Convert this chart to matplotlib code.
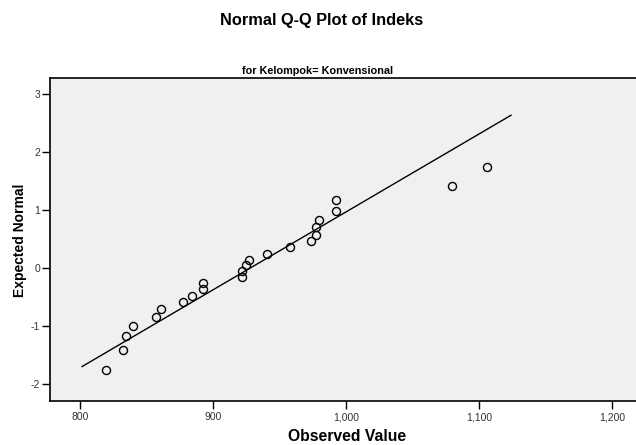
import numpy as np
import matplotlib
import matplotlib.pyplot as plt
matplotlib.use('Agg')

plt.rcParams['font.family'] = ['Liberation Sans', 'DejaVu Sans']
plt.rcParams['axes.unicode_minus'] = False

# observed values (Indeks, Kelompok = Konvensional), sorted
observed = [819.8, 832.3, 834.6, 840.1, 857.1, 860.7, 877.4, 884.4, 892.5, 892.5,
            921.6, 922.0, 924.8, 927.1, 940.6, 957.7, 973.9, 977.2, 977.4, 979.5,
            992.3, 992.3, 1079.5, 1105.8]
# expected normal values
expected = [-1.75, -1.41, -1.17, -0.99, -0.84, -0.71, -0.58, -0.47, -0.36, -0.25,
            -0.15, -0.05, 0.05, 0.15, 0.25, 0.36, 0.47, 0.58, 0.71, 0.84,
            0.99, 1.17, 1.41, 1.75]
# reference line ends (observed value)
line_x = [801.5, 1124.0]

x_ticks = [800, 900, 1000, 1100, 1200]
x_tick_labels = ['800', '900', '1,000', '1,100', '1,200']
y_ticks = [-2, -1, 0, 1, 2, 3]

fig = plt.figure(figsize=(6.36, 4.45), dpi=100)
ax = fig.add_axes([0.0786, 0.0989, 0.9277, 0.7247])
ax.set_facecolor('#F0F0F0')

obs = np.array(observed)
mu = obs.mean()
sd = obs.std(ddof=1)
lx = np.array(line_x)
ax.plot(lx, (lx - mu) / sd, color='black', lw=1.0)

ax.plot(observed, expected, 'o', mfc='none', mec='black', ms=5.8, mew=1.0)

ax.set_xlim(777.4, 1221)
ax.set_ylim(-2.288, 3.272)
ax.set_xticks(x_ticks)
ax.set_xticklabels(x_tick_labels)
ax.set_yticks(y_ticks)

for s in ['top', 'left', 'bottom']:
    ax.spines[s].set_linewidth(1.2)
ax.spines['right'].set_visible(False)
ax.tick_params(axis='both', direction='out', labelsize=7.5, colors='black',
               labelcolor='#333333', width=1.0)
ax.tick_params(axis='y', length=6, pad=1)
ax.tick_params(axis='x', length=6, pad=2)

fig.text(0.505, 0.955, 'Normal Q-Q Plot of Indeks', ha='center', va='center',
         fontsize=11.8, fontweight='bold')
fig.text(0.499, 0.840, 'for Kelompok= Konvensional', ha='center', va='center',
         fontsize=7.8, fontweight='bold')
fig.text(0.546, 0.018, 'Observed Value', ha='center', va='center',
         fontsize=11.3, fontweight='bold')
fig.text(0.031, 0.46, 'Expected Normal', ha='center', va='center',
         rotation=90, fontsize=10, fontweight='bold')

fig.savefig('out.png', dpi=100)
